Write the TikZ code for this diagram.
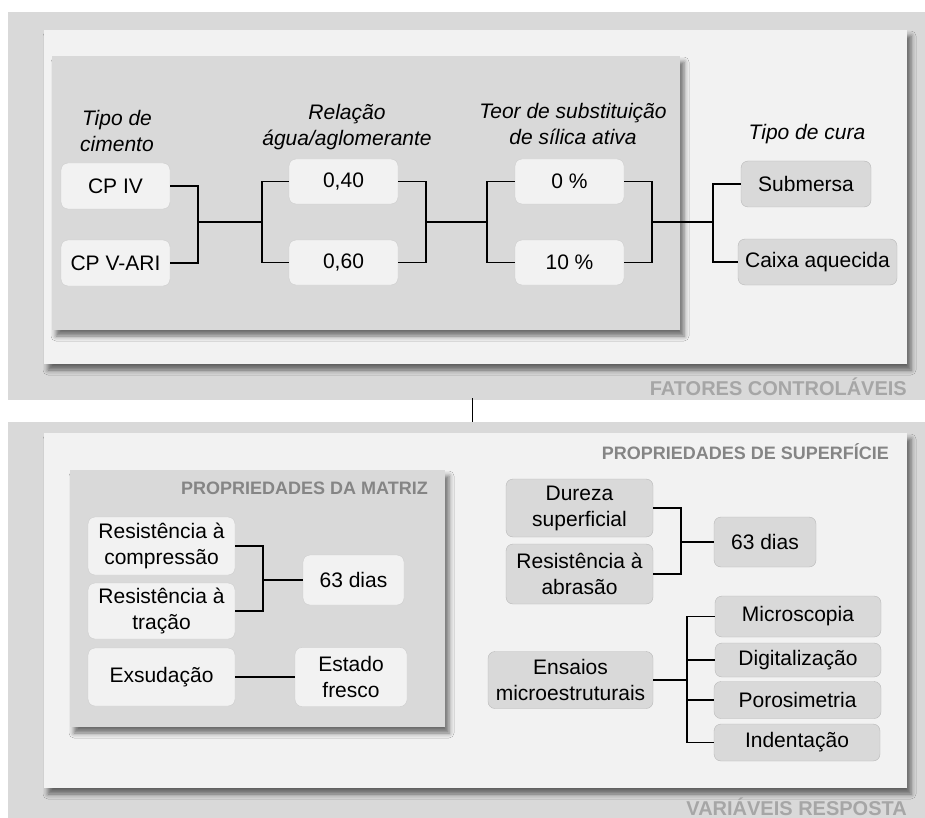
\documentclass[tikz,border=0pt]{standalone}
\usepackage{fontspec}
\setmainfont{Liberation Sans}
\usetikzlibrary{shadows,shadows.blur}

\begin{document}
\begin{tikzpicture}[
  x=1pt, y=-1pt,
  every node/.style={font=\fontsize{21}{26}\selectfont},
  lbox/.style={rectangle, rounded corners=7pt, draw=black!20, fill=black!5,
               align=center, inner sep=0pt},
  dbox/.style={lbox, draw=black!28, fill=black!15},
  head/.style={align=center, font=\fontsize{21}{26}\selectfont\itshape},
  tag/.style={font=\fontsize{20}{24}\selectfont\bfseries, text=black!35,
              anchor=base east, inner sep=0pt},
  subtag/.style={tag, font=\fontsize{18}{22}\selectfont\bfseries, text=black!48},
  link/.style={line width=1.3pt},
  trunk/.style={line width=2.2pt},
  shade/.style={blur shadow={shadow xshift=4pt, shadow yshift=-6pt,
                shadow blur radius=5pt, shadow opacity=55}}
]

\useasboundingbox (0,0) rectangle (925,818);

% panels
\fill[black!15] (8,12)  rectangle (925,400);
\fill[black!15] (8,422) rectangle (925,818);
\fill[black!5, shade]  (44,30)  rectangle (907,364);
\fill[black!15, shade] (52,56)  rectangle (680,330);
\fill[black!5, shade]  (44,433) rectangle (907,788);
\fill[black!15, shade] (70,470) rectangle (445,727);

\node[tag] at (907,395) (tagF) {FATORES CONTROLÁVEIS};
\node[tag] at (907,815) (tagV) {VARIÁVEIS RESPOSTA};
\node[subtag] at (428,494) (tagM) {PROPRIEDADES DA MATRIZ};
\node[subtag] at (889,459) (tagS) {PROPRIEDADES DE SUPERFÍCIE};

\coordinate (gapT) at (472,398);
\coordinate (gapB) at (472,422);
\draw[line width=1pt] (gapT) -- (gapB);

% fatores controlaveis
\node[head] at (117,131) (hCim)  {Tipo de\\cimento};
\node[head] at (347,127) (hRel)  {Relação\\água/aglomerante};
\node[head] at (573,124) (hSil)  {Teor de substituição\\de sílica ativa};
\node[head] at (807,134) (hCura) {Tipo de cura};

\node[lbox, minimum width=109, minimum height=46] at (115.5,186) (cp4) {CP IV};
\node[lbox, minimum width=109, minimum height=46] at (115.5,263) (cp5) {CP V-ARI};
\node[lbox, minimum width=109, minimum height=45] at (343.5,181.5) (a040) {0,40};
\node[lbox, minimum width=109, minimum height=45] at (343.5,262.5) (a060) {0,60};
\node[lbox, minimum width=109, minimum height=45] at (569.5,181.5) (s0) {0 \%};
\node[lbox, minimum width=109, minimum height=45] at (569.5,262.5) (s10) {10 \%};
\node[dbox, minimum width=130, minimum height=46] at (806,184) (cura1) {Submersa};
\node[dbox, minimum width=159, minimum height=46] at (817.5,262) (cura2) {Caixa aquecida};

\coordinate (jA) at (198,222);
\coordinate (jB) at (262,222);
\coordinate (jC) at (426,222);
\coordinate (jD) at (487,222);
\coordinate (jE) at (652,222);
\coordinate (jF) at (713,222);

\draw[link] (cp4.east) -| (jA) |- (cp5.east);
\draw[trunk] (jA) -- (jB);
\draw[link] (a040.west) -| (jB) |- (a060.west);
\draw[link] (a040.east) -| (jC) |- (a060.east);
\draw[trunk] (jC) -- (jD);
\draw[link] (s0.west) -| (jD) |- (s10.west);
\draw[link] (s0.east) -| (jE) |- (s10.east);
\draw[trunk] (jE) -- (jF);
\draw[link] (cura1.west) -| (jF) |- (cura2.west);

% variaveis resposta
\node[lbox, minimum width=147, minimum height=58] at (161.5,546) (rc)  {Resistência à\\compressão};
\node[lbox, minimum width=147, minimum height=56] at (161.5,611) (rt)  {Resistência à\\tração};
\node[lbox, minimum width=101, minimum height=50] at (353.5,580) (d63a) {63 dias};
\node[lbox, minimum width=147, minimum height=58] at (161.5,677) (exs) {Exsudação};
\node[lbox, minimum width=112, minimum height=59] at (351,677) (est) {Estado\\fresco};

\node[dbox, minimum width=147, minimum height=58] at (579.5,508) (dur) {Dureza\\superficial};
\node[dbox, minimum width=147, minimum height=60] at (579.5,574) (rab) {Resistência à\\abrasão};
\node[dbox, minimum width=102, minimum height=50] at (765,542) (d63b) {63 dias};
\node[dbox, minimum width=165, minimum height=57] at (570.5,680) (ens) {Ensaios\\microestruturais};
\node[dbox, minimum width=166, minimum height=41] at (798,616.5) (mic) {Microscopia};
\node[dbox, minimum width=166, minimum height=34] at (798,660) (dig) {Digitalização};
\node[dbox, minimum width=167, minimum height=37] at (797.5,700) (por) {Porosimetria};
\node[dbox, minimum width=166, minimum height=37] at (797,742.5) (ind) {Indentação};

\coordinate (jG) at (263,580);
\coordinate (jH) at (681,542);
\coordinate (jI) at (687,680);

\draw[link] (rc.east) -| (jG) |- (rt.east);
\draw[link] (jG) -- (d63a.west);
\draw[link] (exs.east) -- (est.west);
\draw[link] (dur.east) -| (jH) |- (rab.east);
\draw[link] (jH) -- (d63b.west);
\draw[link] (ens.east) -- (jI);
\draw[link] (mic.west) -| (jI) |- (ind.west);
\draw[link] (dig.west) -- (dig.west -| jI);
\draw[link] (por.west) -- (por.west -| jI);

\end{tikzpicture}
\end{document}
